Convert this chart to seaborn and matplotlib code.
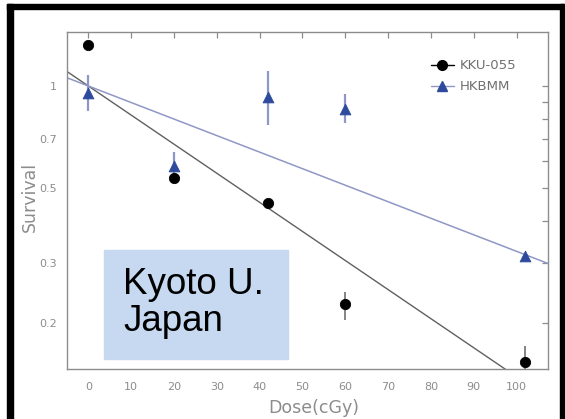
import numpy as np
import pandas as pd
import matplotlib
matplotlib.use('Agg')
import matplotlib.pyplot as plt
from matplotlib.patches import Rectangle
from matplotlib.lines import Line2D
from matplotlib.ticker import FixedLocator, NullFormatter
import seaborn as sns

# data
kku_dose = [0, 20, 42, 60, 102]
kku_surv = [1.32, 0.536, 0.451, 0.228, 0.154]
kku_err_lo = [0, 0, 0, 0.023, 0.017]
kku_err_hi = [0, 0, 0, 0.019, 0.017]

hk_dose = [0, 20, 42, 60, 102]
hk_surv = [0.955, 0.58, 0.93, 0.854, 0.315]
hk_err_lo = [0.109, 0.06, 0.163, 0.078, 0]
hk_err_hi = [0.122, 0.06, 0.177, 0.091, 0]

# fitted lines (end points)
kku_fit_dose = [-5, 110]
kku_fit_surv = [1.104, 0.1140]
hk_fit_dose = [-5, 110]
hk_fit_surv = [1.058, 0.291]

x_ticks = list(range(0, 101, 10))
y_major = [0.2, 0.3, 0.5, 0.7, 1]
y_minor = [0.4, 0.6, 0.8, 0.9]

gray = '#8c8c8c'
blue = '#2d4a9c'
blue_light = '#8f97c6'

sns.set_style('white')
plt.rcParams['font.family'] = ['DejaVu Sans']

fig = plt.figure(figsize=(5.65, 4.19), dpi=100)
fig.patch.set_facecolor('white')
W, H = 565, 419

def fx(p):
    return p / W

def fy(p):
    return 1 - p / H

# black frame round the image
for x0, y0, x1, y1 in [(7, 4, 13, 419), (7, 4, 564, 9), (560, 4, 564, 419)]:
    fig.patches.append(Rectangle((fx(x0), fy(y1)), fx(x1) - fx(x0), fy(y0) - fy(y1),
                                 transform=fig.transFigure, color='black', zorder=0))

ax = fig.add_axes([fx(66.7), fy(368.5), fx(548.3) - fx(66.7), fy(32.3) - fy(368.5)])

kku = pd.DataFrame({'dose': kku_dose, 'surv': kku_surv})
hk = pd.DataFrame({'dose': hk_dose, 'surv': hk_surv})
kku_fit = pd.DataFrame({'dose': kku_fit_dose, 'surv': kku_fit_surv})
hk_fit = pd.DataFrame({'dose': hk_fit_dose, 'surv': hk_fit_surv})

sns.lineplot(data=kku_fit, x='dose', y='surv', ax=ax, color='#606060', lw=1.0, zorder=2)
sns.lineplot(data=hk_fit, x='dose', y='surv', ax=ax, color=blue_light, lw=1.1, zorder=2)

ax.errorbar(kku_dose, kku_surv, yerr=[kku_err_lo, kku_err_hi], fmt='none',
            ecolor='#707070', elinewidth=1.2, capsize=0, zorder=3)
ax.errorbar(hk_dose, hk_surv, yerr=[hk_err_lo, hk_err_hi], fmt='none',
            ecolor=blue_light, elinewidth=1.6, capsize=0, zorder=3)

sns.scatterplot(data=kku, x='dose', y='surv', ax=ax, marker='o', s=55,
                color='black', edgecolor='black', zorder=4)
sns.scatterplot(data=hk, x='dose', y='surv', ax=ax, marker='^', s=60,
                color=blue, edgecolor=blue, zorder=4)

ax.set_yscale('log')
ax.set_xlim(-5.05, 107.4)
ax.set_ylim(0.147, 1.44)

ax.xaxis.set_major_locator(FixedLocator(x_ticks))
ax.yaxis.set_major_locator(FixedLocator(y_major))
ax.yaxis.set_minor_locator(FixedLocator(y_minor))
ax.yaxis.set_minor_formatter(NullFormatter())
ax.set_xticklabels([str(t) for t in x_ticks])
ax.set_yticklabels([('%g' % t) for t in y_major])

ax.tick_params(which='both', direction='in', top=True, right=True, color=gray,
               labelcolor=gray, labelsize=8, length=4, width=0.9, pad=7)
ax.tick_params(axis='x', pad=10)
for s in ax.spines.values():
    s.set_color(gray)
    s.set_linewidth(1.0)

ax.set_xlabel('Dose(cGy)', color=gray, fontsize=12.5)
ax.set_ylabel('Survival', color=gray, fontsize=12.5)
ax.xaxis.set_label_coords(0.5135, -0.092)
ax.yaxis.set_label_coords(-0.058, 0.51)

handles = [
    Line2D([], [], color='black', lw=1.0, marker='o', markersize=7),
    Line2D([], [], color=blue_light, lw=1.0, marker='^', markersize=7,
           markerfacecolor=blue, markeredgecolor=blue),
]
ax.legend(handles, ['KKU-055', 'HKBMM'], loc='upper left', frameon=False,
          bbox_to_anchor=(fx(426), fy(54)), bbox_transform=fig.transFigure,
          handlelength=1.7, handletextpad=0.45, labelspacing=0.6,
          fontsize=9.5, labelcolor='#707070', borderaxespad=0)

# label box
fig.patches.append(Rectangle((fx(104), fy(359)), fx(288) - fx(104), fy(250) - fy(359),
                             transform=fig.transFigure, color='#c6d9f1', zorder=5))
fig.text(fx(123), fy(303), 'Kyoto U.\nJapan', fontsize=26.5, family='Liberation Sans',
         color='black', va='center', ha='left', linespacing=1.08, zorder=6)

fig.savefig('out.png', dpi=100)
